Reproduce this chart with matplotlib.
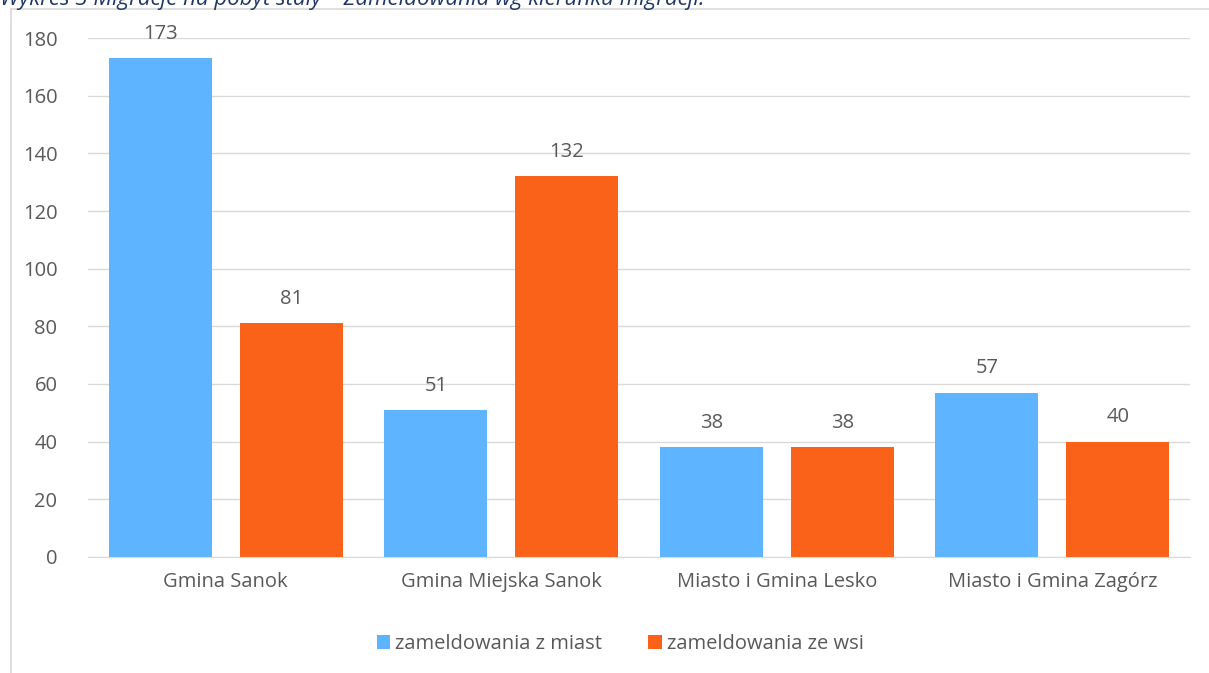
import numpy as np
import matplotlib.pyplot as plt
from matplotlib.patches import Rectangle

categories = ["Gmina Sanok", "Gmina Miejska Sanok", "Miasto i Gmina Lesko", "Miasto i Gmina Zagórz"]
z_miast = [173, 51, 38, 57]
ze_wsi = [81, 132, 38, 40]
series_names = ["zameldowania z miast", "zameldowania ze wsi"]
yticks = [0, 20, 40, 60, 80, 100, 120, 140, 160, 180]

BLUE = "#5EB4FE"
ORANGE = "#F96218"
TEXT = "#595959"

plt.rcParams['font.family'] = ['Open Sans', 'DejaVu Sans']

fig = plt.figure(figsize=(12.09, 6.73), dpi=100)
ax = fig.add_axes([0.0728, 0.1724, 0.9115, 0.7711])

# chart frame
fig.patches.append(Rectangle((11 / 1209, -0.05), 1.1, 1 - 9 / 673 + 0.05,
                             transform=fig.transFigure, fill=False,
                             edgecolor="#D9D9D9", linewidth=1.2))
fig.text(0.0, 1.0, "Wykres 3 Migracje na pobyt stały – Zameldowania wg kierunku migracji.",
         ha="left", va="center", fontsize=16, style="italic", color="#1F3864")

x = np.arange(len(categories))
w = 0.373
off = 0.2375
b1 = ax.bar(x - off, z_miast, w, color=BLUE, label=series_names[0])
b2 = ax.bar(x + off, ze_wsi, w, color=ORANGE, label=series_names[1])

for bars in (b1, b2):
    for rect in bars:
        ax.text(rect.get_x() + rect.get_width() / 2, rect.get_height() + 5,
                f"{int(rect.get_height())}", ha="center", va="bottom",
                fontsize=14.5, color=TEXT)

ax.set_xlim(-0.5, len(categories) - 0.5)
ax.set_ylim(0, 180)
ax.set_yticks(yticks)
ax.set_xticks(x)
ax.set_xticklabels(categories)
ax.tick_params(axis="both", length=0, labelsize=14.5, labelcolor=TEXT)
ax.tick_params(axis="y", pad=22)
ax.tick_params(axis="x", pad=11)
ax.grid(axis="y", color="#D9D9D9", linewidth=1)
ax.set_axisbelow(True)
for s in ["top", "right", "left"]:
    ax.spines[s].set_visible(False)
ax.spines["bottom"].set_color("#D9D9D9")

leg = fig.legend(loc="center", bbox_to_anchor=(0.513, 0.043), ncol=2, frameon=False,
                 fontsize=14.5, handlelength=0.65, handleheight=0.65, handletextpad=0.25,
                 columnspacing=2.3)
for t in leg.get_texts():
    t.set_color(TEXT)

fig.savefig("out.png", dpi=100)
